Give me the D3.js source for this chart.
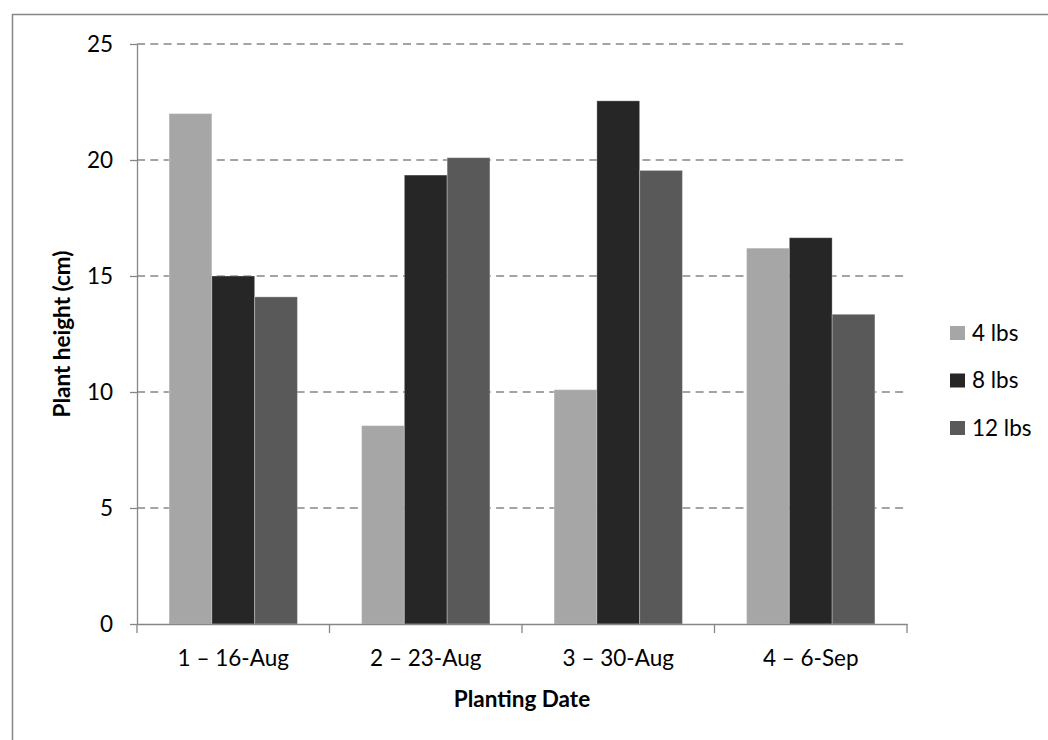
<!DOCTYPE html>
<html>
<head>
<meta charset="utf-8">
<script src="https://cdn.jsdelivr.net/npm/d3@7"></script>
<style>
  body { margin: 0; background: #fff; }
  svg text { font-family: Lato, 'Open Sans', sans-serif; fill: #000; }
</style>
</head>
<body>
<svg id="chart" width="1048" height="740"></svg>
<script>
var categories = ['1 \u2013 16-Aug', '2 \u2013 23-Aug', '3 \u2013 30-Aug', '4 \u2013 6-Sep'];
var seriesNames = ['4 lbs', '8 lbs', '12 lbs'];
var lbs4 = [22.0, 8.55, 10.1, 16.2];
var lbs8 = [15.0, 19.35, 22.55, 16.65];
var lbs12 = [14.1, 20.1, 19.55, 13.35];
var yTicks = [0, 5, 10, 15, 20, 25];
var colors = ['#a6a6a6', '#262626', '#595959'];

var seriesValues = [lbs4, lbs8, lbs12];
var svg = d3.select('#chart');

// outer chart frame (right/bottom edges fall off the picture)
svg.append('rect')
  .attr('x', 12.5).attr('y', 14.5)
  .attr('width', 1100).attr('height', 800)
  .attr('fill', 'none')
  .attr('stroke', '#868686')
  .attr('stroke-width', 1.5);

var plotLeft = 137, plotRight = 907, plotTop = 44, plotBottom = 624;

var x = d3.scaleBand().domain(categories).range([plotLeft, plotRight]).paddingInner(0.3333).paddingOuter(0.16667);
var xOuter = d3.scaleBand().domain(categories).range([plotLeft, plotRight]);
var xInner = d3.scaleBand().domain(seriesNames).range([0, x.bandwidth()]);
var y = d3.scaleLinear().domain([0, 25]).range([plotBottom, plotTop]);

// gridlines
svg.append('g').selectAll('line')
  .data(yTicks.filter(function(d) { return d > 0; }))
  .enter().append('line')
  .attr('x1', plotLeft).attr('x2', plotRight)
  .attr('y1', function(d) { return y(d); })
  .attr('y2', function(d) { return y(d); })
  .attr('stroke', '#868686')
  .attr('stroke-width', 1.3)
  .attr('stroke-dasharray', '8,5.3');

// bars
var groups = svg.append('g').selectAll('g')
  .data(seriesNames)
  .enter().append('g')
  .attr('fill', function(d, i) { return colors[i]; });

groups.selectAll('rect')
  .data(function(d, i) {
    return seriesValues[i].map(function(v, j) {
      return { series: d, cat: categories[j], value: v };
    });
  })
  .enter().append('rect')
  .attr('x', function(d) { return x(d.cat) + xInner(d.series); })
  .attr('width', xInner.bandwidth())
  .attr('y', function(d) { return y(d.value); })
  .attr('height', function(d) { return y(0) - y(d.value); })
  .attr('stroke', 'rgba(255,255,255,0.3)')
  .attr('stroke-width', 1);

// y axis
var yAxis = svg.append('g')
  .attr('transform', 'translate(' + plotLeft + ',0)')
  .call(d3.axisLeft(y).tickValues(yTicks).tickSize(7).tickPadding(17).tickSizeOuter(0));
yAxis.select('.domain').attr('stroke', '#868686').attr('stroke-width', 1.3);
yAxis.selectAll('.tick line').attr('stroke', '#868686').attr('stroke-width', 1.3);
yAxis.selectAll('.tick text')
  .attr('font-size', 22.5)
  .style('font-family', 'Lato, sans-serif')
  .attr('fill', '#000');

// x axis
var xAxis = svg.append('g')
  .attr('transform', 'translate(0,' + plotBottom + ')')
  .call(d3.axisBottom(xOuter).tickSize(0).tickPadding(26));
xAxis.select('.domain').attr('stroke', '#868686').attr('stroke-width', 1.3);
xAxis.selectAll('.tick text')
  .attr('font-size', 22.5)
  .style('font-family', 'Lato, sans-serif')
  .attr('fill', '#000');

// category boundary ticks
svg.append('g').selectAll('line')
  .data(categories.concat(['end']))
  .enter().append('line')
  .attr('x1', function(d) { return d === 'end' ? plotRight : xOuter(d); })
  .attr('x2', function(d) { return d === 'end' ? plotRight : xOuter(d); })
  .attr('y1', plotBottom)
  .attr('y2', plotBottom + 9)
  .attr('stroke', '#868686')
  .attr('stroke-width', 1.3);

// axis titles
svg.append('text')
  .attr('x', (plotLeft + plotRight) / 2)
  .attr('y', 707)
  .attr('text-anchor', 'middle')
  .attr('font-size', 22.5)
  .attr('font-weight', 'bold')
  .text('Planting Date');

svg.append('text')
  .attr('transform', 'translate(70,' + (plotTop + plotBottom) / 2 + ') rotate(-90)')
  .attr('text-anchor', 'middle')
  .attr('font-size', 22.5)
  .attr('font-weight', 'bold')
  .text('Plant height (cm)');

// legend
var legend = svg.append('g').selectAll('g')
  .data(seriesNames)
  .enter().append('g')
  .attr('transform', function(d, i) { return 'translate(950,' + (333 + i * 47.5) + ')'; });

legend.append('rect')
  .attr('x', 0).attr('y', -7)
  .attr('width', 15).attr('height', 14)
  .attr('fill', function(d, i) { return colors[i]; });

legend.append('text')
  .attr('x', 22)
  .attr('dy', '0.35em')
  .attr('font-size', 22.5)
  .text(function(d) { return d; });
</script>
</body>
</html>
